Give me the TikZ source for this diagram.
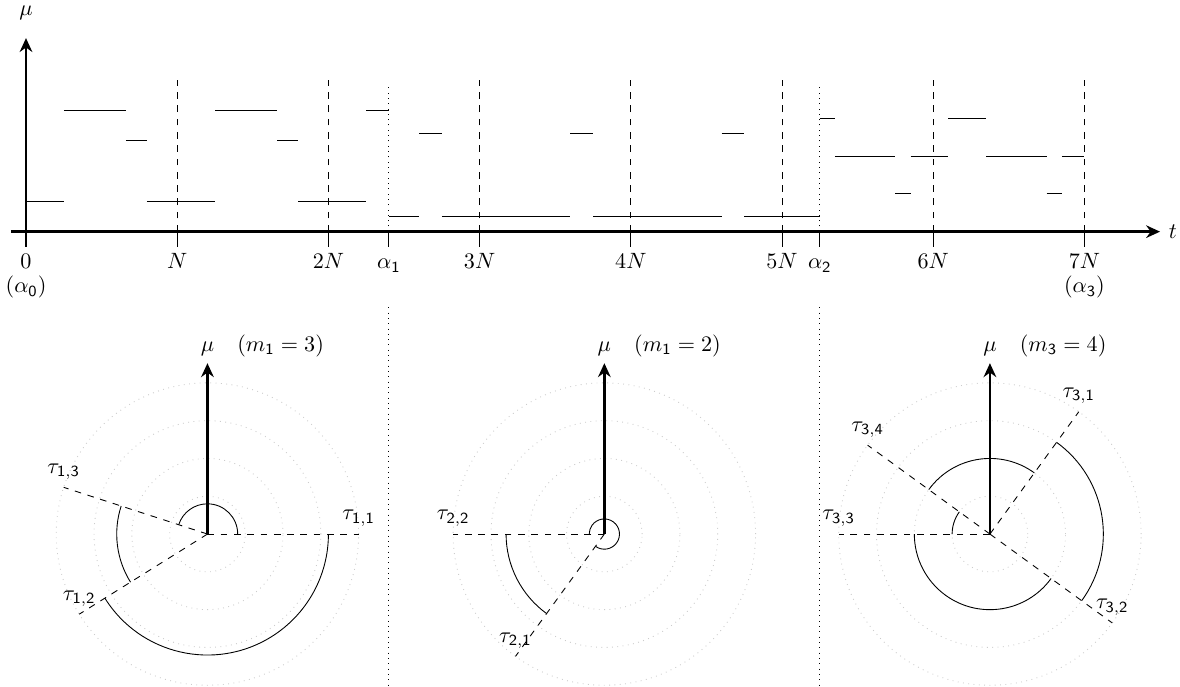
\documentclass[tikz,border=0pt]{standalone}
\usetikzlibrary{arrows.meta, positioning}
\tikzset{
  axis/.style={very thick, -{Stealth[length=2.2mm, width=2mm]}},
  period/.style={dashed},
  phase/.style={dotted},
  ring/.style={dotted, gray!40},
  ray/.style={dashed},
  ticklabel/.style={below, text height=1.5ex, text depth=0.25ex},
}

\begin{document}
\begin{tikzpicture}[x=2.4cm, y=2.4cm]
\useasboundingbox (-0.172,-3.011) rectangle (7.632,1.532);

% time axis with the periods
\draw[axis] (-0.1,0) -- (7.5,0) node[right] (tlab) {$t$};
\draw[axis] (0,-0.1) -- (0,1.28);
\node (mulab) at (0,1.45) {$\mu$};
\node[ticklabel] (n0) at (0,-0.1) {$0$};
\node[below=-1.7mm of n0] (a0) {$(\alpha_{\mathsf{0}})$};
\foreach \k/\txt in {1/N,2/2N,3/3N,4/4N,5/5N,6/6N,7/7N} {
  \draw (\k,-0.1) -- (\k,0);
  \draw[period] (\k,0) -- (\k,1);
  \node[ticklabel] (n\k) at (\k,-0.1) {$\txt$};
}
\node[below=-1.7mm of n7] (a3) {$(\alpha_{\mathsf{3}})$};
\foreach \a/\i in {2.4/1, 5.25/2} {
  \draw (\a,-0.1) -- (\a,0);
  \draw[phase] (\a,0) -- (\a,0.98);
  \node[ticklabel] (a\i) at (\a,-0.1) {$\alpha_{\mathsf{\i}}$};
}

% piecewise constant mu(t)
\foreach \s/\e/\h in {0/0.25/0.2, 0.25/0.66/0.8, 0.66/0.8/0.6, 0.8/1.25/0.2,
    1.25/1.66/0.8, 1.66/1.8/0.6, 1.8/2.25/0.2, 2.25/2.4/0.8,
    2.4/2.6/0.1, 2.6/2.75/0.65, 2.75/3.6/0.1, 3.6/3.75/0.65, 3.75/4.6/0.1,
    4.6/4.75/0.65, 4.75/5.25/0.1,
    5.25/5.35/0.75, 5.35/5.75/0.5, 5.75/5.85/0.25, 5.85/6.1/0.5,
    6.1/6.35/0.75, 6.35/6.75/0.5, 6.75/6.85/0.25, 6.85/7/0.5}
  \draw (\s,\h) -- (\e,\h);

% separators below
\draw[phase] (2.4,-0.5) -- (2.4,-3.011);
\draw[phase] (5.25,-0.5) -- (5.25,-3.011);

% polar views
\foreach \c/\x in {c1/1.2, c2/3.825, c3/6.375} {
  \coordinate (\c) at (\x,-2);
  \foreach \r in {0.25,0.5,0.75,1}
    \draw[ring] (\c) circle[radius=\r];
}

% first cycle
\draw[ray] (c1) -- ++(0:1) node[above] (t11) {$\tau_{\mathsf{1,1}}$};
\draw[ray] (c1) -- ++(212:1) node[above] (t12) {$\tau_{\mathsf{1,2}}$};
\draw[ray] (c1) -- ++(162:1) node[above] (t13) {$\tau_{\mathsf{1,3}}$};
\foreach \s/\e/\r in {0/162/0.2, 162/212/0.6, 212/360/0.8}
  \draw (c1) ++(\s:\r) arc[start angle=\s, end angle=\e, radius=\r];
\draw[axis] (c1) -- ++(0,1.13) coordinate (top1);
\node[above] (mu1) at (top1) {$\mu$};
\node[base right=1.2mm of mu1] (m1) {$(m_{\mathsf{1}}=3)$};

% second cycle
\draw[ray] (c2) -- ++(234:1) node[above] (t21) {$\tau_{\mathsf{2,1}}$};
\draw[ray] (c2) -- ++(180:1) node[above] (t22) {$\tau_{\mathsf{2,2}}$};
\foreach \s/\e/\r in {180/234/0.65, 234/540/0.1}
  \draw (c2) ++(\s:\r) arc[start angle=\s, end angle=\e, radius=\r];
\draw[axis] (c2) -- ++(0,1.13) coordinate (top2);
\node[above] (mu2) at (top2) {$\mu$};
\node[base right=1.2mm of mu2] (m2) {$(m_{\mathsf{1}}=2)$};

% third cycle
\draw[ray] (c3) -- ++(54:1) node[above] (t31) {$\tau_{\mathsf{3,1}}$};
\draw[ray] (c3) -- ++(-36:1) node[above] (t32) {$\tau_{\mathsf{3,2}}$};
\draw[ray] (c3) -- ++(180:1) node[above] (t33) {$\tau_{\mathsf{3,3}}$};
\draw[ray] (c3) -- ++(144:1) node[above] (t34) {$\tau_{\mathsf{3,4}}$};
\foreach \s/\e/\r in {54/-36/0.75, -36/-180/0.5, 180/144/0.25, 144/54/0.5}
  \draw (c3) ++(\s:\r) arc[start angle=\s, end angle=\e, radius=\r];
\draw[axis] (c3) -- ++(0,1.13) coordinate (top3);
\node[above] (mu3) at (top3) {$\mu$};
\node[base right=1.2mm of mu3] (m3) {$(m_{\mathsf{3}}=4)$};
\end{tikzpicture}
\end{document}
